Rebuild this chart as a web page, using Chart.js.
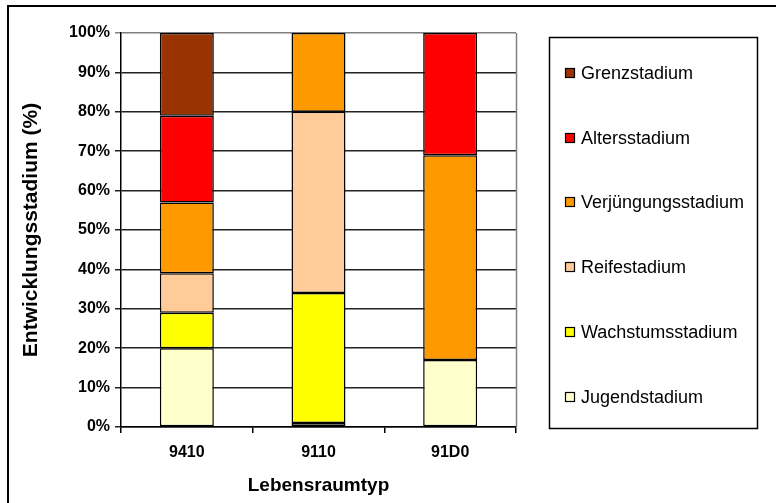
<!DOCTYPE html>
<html>
<head>
<meta charset="utf-8">
<script src="https://cdn.jsdelivr.net/npm/chart.js@4.4.1/dist/chart.umd.min.js"></script>
<style>
  html, body { margin: 0; padding: 0; background: #fff; }
  #wrap { width: 776px; height: 503px; }
</style>
</head>
<body>
<div id="wrap"><canvas id="c" width="776" height="503"></canvas></div>
<script>
// Lebensraumtypen (x-axis categories)
const categories = ['9410', '9110', '91D0'];

// Share of each development stage per habitat type, in percent
const jugendstadium       = [20, 1, 17];
const wachstumsstadium    = [9, 33, 0];
const reifestadium        = [10, 46, 0];
const verjuengungsstadium = [18, 20, 52];
const altersstadium       = [22, 0, 31];
const grenzstadium        = [21, 0, 0];

const yTickValues = [0, 10, 20, 30, 40, 50, 60, 70, 80, 90, 100];

const FONT = '"Liberation Sans", Arial, sans-serif';

const datasets = [
  { label: 'Jugendstadium', data: jugendstadium, backgroundColor: '#FFFFCC' },
  { label: 'Wachstumsstadium', data: wachstumsstadium, backgroundColor: '#FFFF00' },
  { label: 'Reifestadium', data: reifestadium, backgroundColor: '#FFCC99' },
  { label: 'Verjüngungsstadium', data: verjuengungsstadium, backgroundColor: '#FF9900' },
  { label: 'Altersstadium', data: altersstadium, backgroundColor: '#FF0000' },
  { label: 'Grenzstadium', data: grenzstadium, backgroundColor: '#993300' }
].map(d => Object.assign(d, {
  borderColor: '#000000',
  // empty segments get no outline
  borderWidth: ctx => (ctx.raw ? 1.5 : 0),
  borderSkipped: false,
  barPercentage: 0.41,
  categoryPercentage: 1.0
}));

// Outer frame, plot border and a boxed legend listed top-down
const decorations = {
  id: 'decorations',
  beforeDraw(chart) {
    const ctx = chart.ctx;
    ctx.save();
    ctx.fillStyle = '#fff';
    ctx.fillRect(0, 0, chart.width, chart.height);
    ctx.strokeStyle = '#000';
    ctx.lineWidth = 2;
    ctx.beginPath();
    ctx.moveTo(8, chart.height + 5);
    ctx.lineTo(8, 6);
    ctx.lineTo(chart.width + 5, 6);
    ctx.stroke();
    ctx.restore();
  },
  afterDraw(chart) {
    const ctx = chart.ctx;
    const a = chart.chartArea;
    ctx.save();
    // plot area border (right side)
    ctx.strokeStyle = '#808080';
    ctx.lineWidth = 1.5;
    ctx.beginPath();
    ctx.moveTo(Math.round(a.right) + 0.5, a.top);
    ctx.lineTo(Math.round(a.right) + 0.5, a.bottom);
    ctx.stroke();

    // legend box
    const bx = 549, by = 37, bw = 208, bh = 391;
    ctx.strokeStyle = '#000';
    ctx.lineWidth = 1.5;
    ctx.strokeRect(bx + 0.5, by + 0.5, bw, bh);

    const items = chart.data.datasets.slice().reverse();
    const firstY = 73, step = 64.7;
    ctx.font = '18px ' + FONT;
    ctx.textBaseline = 'middle';
    ctx.textAlign = 'left';
    items.forEach((ds, i) => {
      const y = Math.round(firstY + i * step);
      ctx.fillStyle = ds.backgroundColor;
      ctx.fillRect(565, y - 5, 10, 10);
      ctx.strokeStyle = '#000';
      ctx.lineWidth = 1.2;
      ctx.strokeRect(565.5, y - 4.5, 9, 9);
      ctx.fillStyle = '#000';
      ctx.fillText(ds.label, 581, y + 1);
    });
    ctx.restore();
  }
};

new Chart(document.getElementById('c'), {
  type: 'bar',
  data: { labels: categories, datasets: datasets },
  options: {
    responsive: false,
    animation: false,
    devicePixelRatio: 1,
    layout: { padding: { left: 0, top: 33, right: 260, bottom: 0 } },
    plugins: {
      legend: { display: false },
      tooltip: { enabled: false }
    },
    scales: {
      x: {
        stacked: true,
        offset: true,
        grid: {
          offset: true,
          drawOnChartArea: false,
          drawTicks: true,
          tickLength: 6,
          lineWidth: 1.5,
          color: '#000'
        },
        border: { color: '#000', width: 1.5 },
        ticks: {
          color: '#000',
          padding: 10,
          font: { family: FONT, size: 16, weight: 'bold' }
        },
        title: {
          display: true,
          text: 'Lebensraumtyp',
          color: '#000',
          font: { family: FONT, size: 19, weight: 'bold' },
          padding: { top: 0, bottom: 6 }
        },
        afterFit(scale) { scale.height = 76; }
      },
      y: {
        stacked: true,
        min: 0,
        max: 100,
        afterBuildTicks(scale) { scale.ticks = yTickValues.map(v => ({ value: v })); },
        grid: {
          color: ctx => (ctx.tick && ctx.tick.value === 100) ? '#808080' : '#222',
          lineWidth: 1.5,
          drawTicks: true,
          tickLength: 6
        },
        border: { color: '#000', width: 1.5 },
        ticks: {
          color: '#000',
          padding: 5,
          font: { family: FONT, size: 16, weight: 'bold' },
          callback: v => v + '%'
        },
        title: {
          display: true,
          text: 'Entwicklungsstadium (%)',
          color: '#000',
          font: { family: FONT, size: 21, weight: 'bold' },
          padding: { top: 19, bottom: 0 }
        },
        afterFit(scale) { scale.width = 121; }
      }
    }
  },
  plugins: [decorations]
});
</script>
</body>
</html>
